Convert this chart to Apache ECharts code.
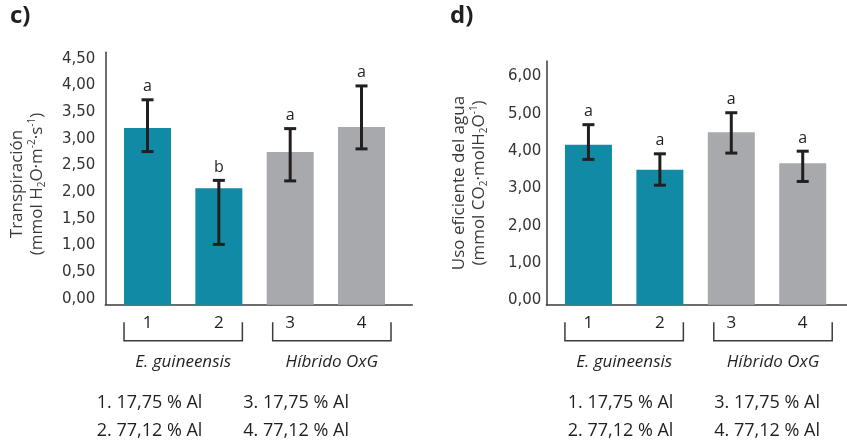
<!DOCTYPE html>
<html><head><meta charset="utf-8">
<script src="https://cdn.jsdelivr.net/npm/echarts@6/dist/echarts.min.js"></script>
<style>html,body{margin:0;padding:0;background:#fff}#c{width:847px;height:443px}</style>
</head><body><div id="c"></div>
<script>
// ---------- data ----------
const categories = ['1', '2', '3', '4'];
const groupNames = ['E. guineensis', 'Híbrido OxG'];
const groupOfCategory = [0, 0, 1, 1];
const treatmentNotes = ['1. 17,75 % Al', '2. 77,12 % Al', '3. 17,75 % Al', '4. 77,12 % Al'];

const transpMean = [3.20, 2.07, 2.75, 3.22];
const transpLow = [2.76, 1.02, 2.21, 2.81];
const transpHigh = [3.73, 2.22, 3.19, 3.99];
const transpLetters = ['a', 'b', 'a', 'a'];
const transpTicks = [0, 0.5, 1, 1.5, 2, 2.5, 3, 3.5, 4, 4.5];

const wueMean = [4.17, 3.50, 4.51, 3.68];
const wueLow = [3.78, 3.09, 3.95, 3.19];
const wueHigh = [4.71, 3.93, 5.03, 4.00];
const wueLetters = ['a', 'a', 'a', 'a'];
const wueTicks = [0, 1, 2, 3, 4, 5, 6];

// ---------- style ----------
const TEAL = '#118BA5', GRAY = '#A7A9AC', INK = '#231F20', AXIS = '#3C3C3C';
const FONT = '"Open Sans", sans-serif';
const TICKFONT = '"DejaVu Sans", sans-serif';
const BAR_W = 47, CAP = 12, ERR_W = 3;
const Y_MIN = -0.11;
const BRACKET_SHIFT = [0, 6];

const fmt = v => v.toFixed(2).replace('.', ',');

function barRenderer(letters) {
  return function (params, api) {
    const i = api.value(0);
    const top = api.coord([i, api.value(1)]);
    const base = api.coord([i, Y_MIN]);
    const lo = api.coord([i, api.value(2)]);
    const hi = api.coord([i, api.value(3)]);
    const x = top[0];
    const ls = { stroke: INK, lineWidth: ERR_W };
    return {
      type: 'group', children: [
        { type: 'rect', shape: { x: x - BAR_W / 2, y: top[1], width: BAR_W, height: base[1] - top[1] },
          style: { fill: groupOfCategory[i] === 0 ? TEAL : GRAY } },
        { type: 'line', shape: { x1: x, y1: lo[1], x2: x, y2: hi[1] }, style: ls },
        { type: 'line', shape: { x1: x - CAP / 2, y1: hi[1], x2: x + CAP / 2, y2: hi[1] }, style: ls },
        { type: 'line', shape: { x1: x - CAP / 2, y1: lo[1], x2: x + CAP / 2, y2: lo[1] }, style: ls },
        { type: 'text', x: x, y: hi[1] - 13,
          style: { text: letters[params.dataIndex], fill: INK, font: '16px ' + FONT, align: 'center', verticalAlign: 'middle' } }
      ]
    };
  };
}

function bracketRenderer(params, api) {
  const g = api.value(0);
  const a = api.coord([api.value(1), Y_MIN]);
  const b = api.coord([api.value(2), Y_MIN]);
  const x1 = a[0] - BAR_W / 2 + BRACKET_SHIFT[g];
  const x2 = b[0] + BAR_W / 2 + BRACKET_SHIFT[g];
  const y0 = a[1];
  return {
    type: 'group', children: [
      { type: 'polyline', shape: { points: [[x1, y0 + 17.6], [x1, y0 + 36], [x2, y0 + 36], [x2, y0 + 17.6]] },
        style: { stroke: AXIS, lineWidth: 1.5, fill: null } },
      { type: 'text', x: (x1 + x2) / 2, y: y0 + 57.5,
        style: { text: groupNames[g], fill: INK, font: 'italic 17px ' + FONT, align: 'center', verticalAlign: 'middle' } }
    ]
  };
}

function rows(mean, low, high) {
  return categories.map((c, i) => [i, mean[i], low[i], high[i]]);
}
const groupRows = groupNames.map((g, gi) => {
  const idx = groupOfCategory.map((v, i) => v === gi ? i : -1).filter(i => i >= 0);
  return [gi, idx[0], idx[idx.length - 1]];
});

function xAxisOpt(gridIndex, min, max) {
  return {
    type: 'value', gridIndex, min, max,
    axisLine: { onZero: false, lineStyle: { color: AXIS, width: 1.5 } },
    axisTick: { show: false }, splitLine: { show: false },
    axisLabel: { customValues: [0, 1, 2, 3], formatter: v => categories[Math.round(v)],
      color: INK, fontFamily: FONT, fontSize: 17, margin: 10 }
  };
}
function yAxisOpt(gridIndex, max, ticks, margin) {
  return {
    type: 'value', gridIndex, min: Y_MIN, max,
    axisLine: { show: true, onZero: false, lineStyle: { color: AXIS, width: 1.5 } },
    axisTick: { show: false }, splitLine: { show: false },
    axisLabel: { customValues: ticks, formatter: v => fmt(v), color: '#333', fontFamily: TICKFONT, fontSize: 15, margin }
  };
}

// notes below each panel
const noteLayout = [ { cols: [96.7, 243.3] }, { cols: [567.7, 714.3] } ];
const noteRowsY = [403.3, 430.5];
const noteGraphics = [];
noteLayout.forEach(p => {
  treatmentNotes.forEach((t, i) => {
    noteGraphics.push({ type: 'text', x: p.cols[groupOfCategory[i]], y: noteRowsY[i % 2],
      style: { text: t, fill: INK, font: '18px ' + FONT, align: 'left', verticalAlign: 'middle' } });
  });
});

const rich = {
  sub: { fontSize: 10, lineHeight: 10, verticalAlign: 'bottom', fontFamily: FONT, fill: '#3a3a3a' },
  sup: { fontSize: 10, lineHeight: 10, verticalAlign: 'top', fontFamily: FONT, fill: '#3a3a3a' }
};
function axisTitle(x, y, text) {
  return { type: 'text', x, y, rotation: Math.PI / 2,
    style: { text, rich, fill: '#3a3a3a', fontFamily: FONT, fontSize: 17, lineHeight: 20, align: 'center', verticalAlign: 'middle' } };
}

const chart = echarts.init(document.getElementById('c'));
chart.setOption({
  animation: false,
  grid: [
    { left: 105.3, right: 847 - 412.3, top: 52.3, bottom: 443 - 304.7 },
    { left: 546.3, right: 0, top: 61, bottom: 443 - 304.7 }
  ],
  xAxis: [ xAxisOpt(0, -0.592, 3.712), xAxisOpt(1, -0.59, 3.62) ],
  yAxis: [ yAxisOpt(0, 4.62, transpTicks, 10), yAxisOpt(1, 6.415, wueTicks, 5) ],
  series: [
    { type: 'custom', xAxisIndex: 0, yAxisIndex: 0, clip: false, renderItem: barRenderer(transpLetters),
      encode: { x: 0, y: [1, 2, 3] }, data: rows(transpMean, transpLow, transpHigh) },
    { type: 'custom', xAxisIndex: 1, yAxisIndex: 1, clip: false, renderItem: barRenderer(wueLetters),
      encode: { x: 0, y: [1, 2, 3] }, data: rows(wueMean, wueLow, wueHigh) },
    { type: 'custom', xAxisIndex: 0, yAxisIndex: 0, clip: false, renderItem: bracketRenderer,
      encode: { x: [1, 2] }, data: groupRows },
    { type: 'custom', xAxisIndex: 1, yAxisIndex: 1, clip: false, renderItem: bracketRenderer,
      encode: { x: [1, 2] }, data: groupRows }
  ],
  graphic: [
    { type: 'text', left: 10, top: 4, style: { text: 'c)', fill: INK, font: 'bold 24px ' + FONT } },
    { type: 'text', left: 450, top: 4, style: { text: 'd)', fill: INK, font: 'bold 24px ' + FONT } },
    axisTitle(27.3, 184, 'Transpiración\n(mmol H{sub|2}O·m{sup|-2}·s{sup|-1})'),
    axisTitle(469, 183, 'Uso eficiente del agua\n(mmol CO{sub|2}·molH{sub|2}O{sup|-1})'),
    ...noteGraphics
  ]
});
</script></body></html>
